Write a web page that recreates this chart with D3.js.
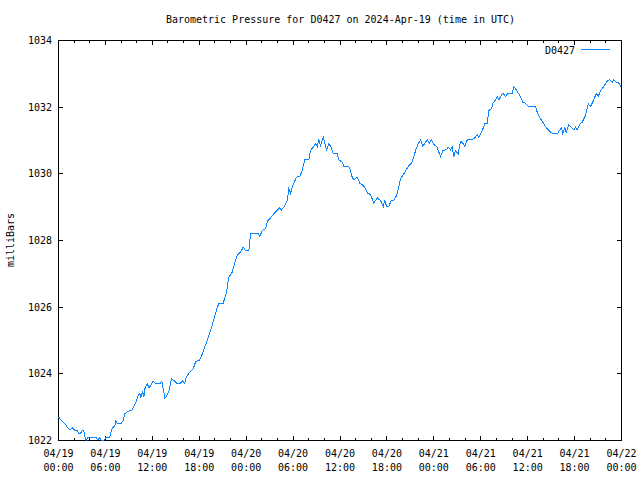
<!DOCTYPE html>
<html>
<head>
<meta charset="utf-8">
<script src="https://cdn.jsdelivr.net/npm/d3@7"></script>
<style>
  html, body { margin: 0; padding: 0; background: #fff; }
  svg { display: block; }
  text { font-family: "DejaVu Sans Mono", "Liberation Mono", monospace; font-size: 10px; fill: #000; }
</style>
</head>
<body>
<svg id="chart" width="640" height="480"></svg>
<script>
// ---- data (hours since 2024-04-19 00:00 UTC, pressure in mBar) ----
const hours = [
  0.00, 0.64, 1.02, 1.15, 1.53, 1.79, 2.08, 2.39, 2.56, 2.81, 3.07, 3.24, 3.45, 3.58, 3.71, 4.86, 4.99, 5.28, 5.46, 5.92,
  6.01, 6.52, 6.78, 6.91, 7.20, 7.33, 7.51, 8.06, 8.27, 8.48, 8.91, 9.34, 9.63, 9.98, 10.19, 10.40, 10.53, 10.74, 10.91, 11.04,
  11.34, 11.60, 12.11, 12.44, 12.96, 13.21, 13.39, 13.60, 13.81, 14.16, 14.45, 14.75, 15.09, 15.60, 15.86, 16.15, 16.37, 16.79, 17.23, 17.56,
  17.99, 18.20, 18.54, 19.02, 19.44, 19.86, 20.30, 20.50, 21.06, 21.49, 21.78, 22.22, 22.51, 22.85, 23.28, 23.62, 23.92, 24.34, 24.56, 25.19,
  25.58, 25.74, 26.05, 26.47, 26.77, 27.11, 27.54, 27.97, 28.26, 28.52, 28.90, 29.25, 29.45, 29.67, 30.02, 30.44, 30.86, 31.17, 31.50, 32.01,
  32.23, 32.57, 32.87, 33.09, 33.29, 33.51, 33.85, 34.02, 34.28, 34.57, 34.88, 35.13, 35.64, 35.85, 36.28, 36.49, 37.13, 37.34, 37.56, 37.77,
  38.20, 38.53, 38.97, 39.26, 39.56, 39.90, 40.32, 40.76, 41.18, 41.53, 41.73, 41.95, 42.24, 42.55, 42.88, 43.23, 43.52, 43.74, 44.16, 44.47,
  44.80, 45.15, 45.44, 45.66, 46.00, 46.30, 46.59, 46.85, 47.16, 47.45, 47.70, 48.00, 48.43, 48.64, 48.86, 49.15, 49.58, 49.84, 50.13, 50.35,
  50.56, 50.77, 51.12, 51.41, 51.71, 51.96, 52.27, 52.91, 53.24, 53.55, 53.75, 54.19, 54.52, 54.83, 55.03, 55.38, 55.54, 55.89, 56.11, 56.31,
  56.53, 56.82, 57.17, 57.51, 58.02, 58.23, 58.45, 58.79, 59.09, 59.38, 59.73, 60.07, 61.01, 61.22, 61.52, 61.86, 62.19, 62.50, 62.92, 63.22,
  63.78, 64.07, 64.33, 64.50, 64.75, 64.93, 65.26, 65.61, 65.90, 66.12, 66.33, 66.63, 66.98, 67.40, 67.74, 68.04, 68.46, 68.77, 69.02, 69.32,
  69.74, 70.17, 70.47, 70.82, 71.02, 71.33, 71.66, 71.93
];
const pressure = [
  1022.70, 1022.54, 1022.45, 1022.38, 1022.32, 1022.38, 1022.30, 1022.30, 1022.22, 1022.22, 1022.30, 1022.28, 1022.05, 1022.02, 1022.08, 1022.08, 1022.02, 1022.08, 1022.00, 1022.02,
  1022.08, 1022.08, 1022.30, 1022.38, 1022.45, 1022.58, 1022.52, 1022.52, 1022.60, 1022.80, 1022.88, 1022.90, 1023.02, 1023.20, 1023.35, 1023.40, 1023.30, 1023.48, 1023.30, 1023.55,
  1023.70, 1023.58, 1023.78, 1023.70, 1023.70, 1023.78, 1023.55, 1023.28, 1023.32, 1023.50, 1023.85, 1023.80, 1023.72, 1023.72, 1023.78, 1023.72, 1023.92, 1024.05, 1024.15, 1024.38,
  1024.40, 1024.48, 1024.70, 1025.00, 1025.30, 1025.62, 1026.00, 1026.10, 1026.12, 1026.45, 1026.90, 1027.05, 1027.30, 1027.55, 1027.65, 1027.80, 1027.70, 1027.70, 1028.20, 1028.20,
  1028.20, 1028.12, 1028.30, 1028.35, 1028.60, 1028.68, 1028.80, 1028.90, 1028.98, 1028.92, 1029.02, 1029.20, 1029.55, 1029.42, 1029.68, 1029.90, 1029.92, 1030.10, 1030.42, 1030.42,
  1030.70, 1030.80, 1030.90, 1030.82, 1031.02, 1030.85, 1031.10, 1030.95, 1030.72, 1030.90, 1030.80, 1030.60, 1030.60, 1030.42, 1030.35, 1030.22, 1030.22, 1030.10, 1029.90, 1029.82,
  1029.90, 1029.72, 1029.65, 1029.55, 1029.42, 1029.38, 1029.12, 1029.28, 1029.20, 1029.02, 1029.22, 1029.02, 1029.02, 1029.20, 1029.20, 1029.35, 1029.60, 1029.85, 1030.00, 1030.12,
  1030.25, 1030.32, 1030.50, 1030.70, 1030.90, 1031.02, 1030.82, 1030.92, 1031.02, 1030.92, 1031.02, 1030.88, 1030.80, 1030.65, 1030.52, 1030.70, 1030.72, 1030.80, 1030.72, 1030.80,
  1030.52, 1030.70, 1030.60, 1030.98, 1030.92, 1030.82, 1031.02, 1031.02, 1031.08, 1031.18, 1031.10, 1031.30, 1031.50, 1031.50, 1031.90, 1031.95, 1032.12, 1032.22, 1032.32, 1032.22,
  1032.32, 1032.42, 1032.32, 1032.42, 1032.42, 1032.62, 1032.55, 1032.42, 1032.32, 1032.15, 1032.12, 1032.02, 1032.02, 1031.85, 1031.70, 1031.58, 1031.45, 1031.35, 1031.25, 1031.20,
  1031.20, 1031.30, 1031.38, 1031.20, 1031.38, 1031.25, 1031.48, 1031.38, 1031.32, 1031.40, 1031.32, 1031.48, 1031.55, 1031.75, 1032.10, 1032.02, 1032.22, 1032.42, 1032.32, 1032.50,
  1032.62, 1032.78, 1032.82, 1032.75, 1032.82, 1032.75, 1032.72, 1032.62
];
const yTicks = [1022, 1024, 1026, 1028, 1030, 1032, 1034];
const xMajorHours = [0, 6, 12, 18, 24, 30, 36, 42, 48, 54, 60, 66, 72];
const xMinorHours = d3.range(0, 73, 2);
const title = "Barometric Pressure for D0427 on 2024-Apr-19 (time in UTC)";
const yLabel = "milliBars";
const seriesName = "D0427";
const startTime = Date.UTC(2024, 3, 19, 0, 0);

// ---- layout ----
const L = 58, R = 621, T = 40, B = 440;
const color = "#0f86ff";
const svg = d3.select("#chart");
const toDate = h => new Date(startTime + h * 3600000);

const x = d3.scaleUtc().domain([toDate(0), toDate(72)]).range([L, R]);
const y = d3.scaleLinear().domain([1022, 1034]).range([B, T]);

const data = hours.map((h, i) => ({ t: toDate(h), v: pressure[i] }));

// frame
svg.append("rect")
  .attr("x", L + 0.5).attr("y", T + 0.5)
  .attr("width", R - L).attr("height", B - T)
  .attr("fill", "none").attr("stroke", "#000").attr("stroke-width", 1)
  .attr("shape-rendering", "crispEdges");

// x ticks (inward, top and bottom)
const xt = svg.append("g").attr("stroke", "#000").attr("shape-rendering", "crispEdges");
xMinorHours.forEach(h => {
  const px = Math.round(x(toDate(h))) + 0.5;
  const len = (h % 6 === 0) ? 4 : 2;
  xt.append("line").attr("x1", px).attr("x2", px).attr("y1", B).attr("y2", B - len);
  xt.append("line").attr("x1", px).attr("x2", px).attr("y1", T + 1).attr("y2", T + 1 + len);
});
// y ticks (inward, left and right)
yTicks.forEach(v => {
  const py = Math.round(y(v)) + 0.5;
  xt.append("line").attr("x1", L).attr("x2", L + 5).attr("y1", py).attr("y2", py);
  xt.append("line").attr("x1", R + 1).attr("x2", R - 4).attr("y1", py).attr("y2", py);
});

// x labels
const fmtDate = d3.utcFormat("%m/%d"), fmtTime = d3.utcFormat("%H:%M");
const xl = svg.append("g").attr("text-anchor", "middle");
xMajorHours.forEach(h => {
  const d = toDate(h), px = x(d) + 0.5;
  xl.append("text").attr("x", px).attr("y", 457).text(fmtDate(d));
  xl.append("text").attr("x", px).attr("y", 471).text(fmtTime(d));
});

// y labels
const yl = svg.append("g").attr("text-anchor", "end");
yTicks.forEach(v => {
  yl.append("text").attr("x", 52).attr("y", y(v) + 4).text(v);
});

// title
svg.append("text").attr("x", (L + R) / 2 + 1).attr("y", 23)
  .attr("text-anchor", "middle").text(title);

// y axis label
svg.append("text").attr("transform", "translate(14,240) rotate(-90)")
  .attr("text-anchor", "middle").text(yLabel);

// line
const line = d3.line().x(d => x(d.t) + 0.5).y(d => y(d.v) + 0.5);
svg.append("path").datum(data)
  .attr("d", line)
  .attr("fill", "none").attr("stroke", color).attr("stroke-width", 1)
  .attr("shape-rendering", "crispEdges");

// legend
svg.append("text").attr("x", 575).attr("y", 54).attr("text-anchor", "end").text(seriesName);
svg.append("line").attr("x1", 581).attr("x2", 610).attr("y1", 49.5).attr("y2", 49.5)
  .attr("stroke", color).attr("stroke-width", 1).attr("shape-rendering", "crispEdges");
</script>
</body>
</html>
